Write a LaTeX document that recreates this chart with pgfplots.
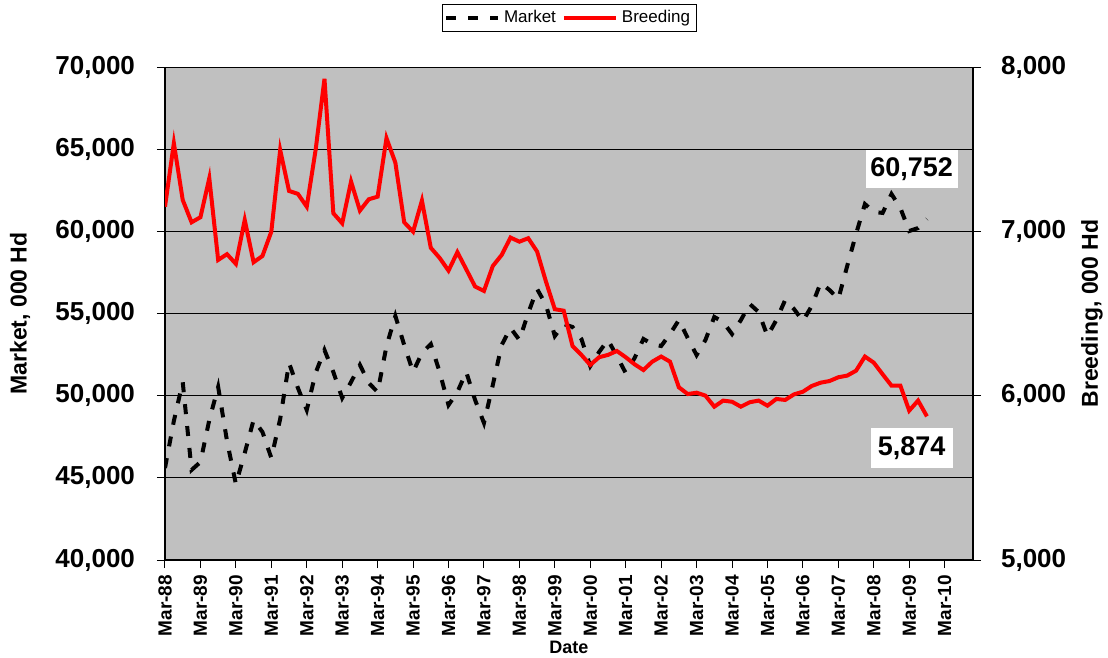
\documentclass[border=0pt]{standalone}
\usepackage{fontspec}
\setmainfont{Liberation Sans}
\usepackage{pgfplots}
\pgfplotsset{compat=1.18}
\usepackage{pgfplotstable}
\usetikzlibrary{calc}
\definecolor{plotbg}{RGB}{192,192,192}
\definecolor{brred}{RGB}{255,0,0}

% quarterly inventory, t = years since Mar-88
\pgfplotstableread{
t market breeding
0.00 45600 7150
0.25 48460 7536
0.50 50830 7191
0.75 45480 7055
1.00 45960 7086
1.25 48520 7323
1.50 50530 6826
1.75 47240 6861
2.00 44620 6802
2.25 46510 7069
2.50 48520 6812
2.75 47790 6850
3.00 46210 6998
3.25 48580 7495
3.50 51990 7246
3.75 50470 7228
4.00 49130 7150
4.25 51380 7495
4.50 52780 7928
4.75 51440 7110
5.00 49860 7049
5.25 50830 7303
5.50 51870 7126
5.75 50770 7195
6.00 50220 7211
6.25 53020 7567
6.50 54850 7418
6.75 53080 7055
7.00 51440 6998
7.25 52600 7187
7.50 53140 6900
7.75 51440 6838
8.00 49430 6761
8.25 50220 6873
8.50 51440 6769
8.75 49740 6664
9.00 48340 6637
9.25 50650 6789
9.50 53080 6856
9.75 54120 6962
10.00 53390 6937
10.25 55030 6958
10.50 56490 6877
10.75 55520 6694
11.00 53630 6526
11.25 54360 6517
11.50 54180 6302
11.75 53450 6248
12.00 51800 6187
12.25 52660 6234
12.50 53390 6248
12.75 52410 6272
13.00 51380 6234
13.25 52290 6191
13.50 53450 6156
13.75 53140 6207
14.00 53020 6238
14.25 53750 6207
14.50 54600 6051
14.75 53510 6010
15.00 52470 6018
15.25 53390 6000
15.50 54790 5933
15.75 54480 5970
16.00 53750 5963
16.25 54600 5933
16.50 55580 5960
16.75 55090 5970
17.00 53630 5939
17.25 54600 5980
17.50 55820 5974
17.75 55270 6008
18.00 54540 6024
18.25 55460 6059
18.50 56860 6079
18.75 56430 6089
19.00 55880 6112
19.25 57890 6122
19.50 59840 6152
19.75 61660 6238
20.00 61180 6201
20.25 61120 6130
20.50 62270 6061
20.75 61420 6061
21.00 60020 5909
21.25 60200 5970
21.50 60752 5874
}\hogs

\begin{document}
\begin{tikzpicture}
\pgfplotsset{
  base/.style={
    scale only axis, width=404pt, height=246.5pt,
    xmin=0, xmax=22.8,
    tick align=outside, major tick length=4pt,
    tick style={black, line width=0.5pt},
    scaled y ticks=false,
    /pgf/number format/fixed,
    /pgf/number format/assume math mode=true,
    /pgf/number format/1000 sep={,},
    yticklabel style={font=\bfseries\fontsize{13}{15}\selectfont},
    ylabel style={font=\bfseries\fontsize{11.5}{13}\selectfont},
    legend image code/.code={\draw[##1] (0pt,0pt) -- (26pt,0pt);},
  },
  mkt/.style={black, line width=2pt, dash pattern=on 5pt off 6pt},
}
\begin{axis}[base, name=main,
  ymin=40000, ymax=70000, ytick={40000,45000,...,70000},
  axis x line*=bottom, axis y line*=left,
  axis line style={black, line width=0.6pt},
  ymajorgrids, grid style={black, line width=0.5pt},
  axis background/.style={fill=plotbg},
  xtick={0,...,22},
  xticklabels={Mar-88,Mar-89,Mar-90,Mar-91,Mar-92,Mar-93,Mar-94,Mar-95,Mar-96,Mar-97,Mar-98,Mar-99,Mar-00,Mar-01,Mar-02,Mar-03,Mar-04,Mar-05,Mar-06,Mar-07,Mar-08,Mar-09,Mar-10},
  xticklabel style={rotate=90, anchor=east, font=\bfseries\fontsize{9.5}{11}\selectfont},
  yticklabel style={anchor=east, xshift=-7.5pt},
  xlabel={Date},
  xlabel style={at={(axis description cs:0.5,-0.1765)}, anchor=center, font=\bfseries\fontsize{9}{10}\selectfont},
  ylabel={Market, 000 Hd},
  ylabel style={at={(axis description cs:-0.1795,0.5)}, anchor=center},
]
\addplot[mkt] table[x=t, y=market] {\hogs};
\node[fill=white, inner sep=0pt, minimum width=46pt, minimum height=19pt,
  font=\bfseries\fontsize{13.5}{15}\selectfont] at (axis cs:21.07,63790) {60,752};
\node[fill=white, inner sep=0pt, minimum width=41pt, minimum height=20pt,
  font=\bfseries\fontsize{13.5}{15}\selectfont] at (axis cs:21.07,46815) {5,874};
\end{axis}
\begin{axis}[base,
  ymin=5000, ymax=8000, ytick={5000,6000,7000,8000},
  axis y line*=right, axis x line=none,
  axis line style={black, line width=0.6pt},
  yticklabel style={anchor=west, xshift=6.5pt},
  ylabel={Breeding, 000 Hd},
  ylabel style={at={(axis description cs:1.1473,0.5)}, anchor=center},
  legend style={at={(0.5,1.1)}, anchor=center, legend columns=2, draw=black, fill=white,
    font=\fontsize{8.5}{10}\selectfont, inner sep=1pt,
    /tikz/every even column/.append style={column sep=1pt}},
]
\addlegendimage{mkt}
\addlegendentry{Market}
\addplot[brred, line width=2pt] table[x=t, y=breeding] {\hogs};
\addlegendentry{Breeding}
\end{axis}
\pgfresetboundingbox
\path ($(main.south west)+(-82.5pt,-49pt)$) rectangle ($(main.north east)+(67.5pt,33.5pt)$);
\end{tikzpicture}
\end{document}
